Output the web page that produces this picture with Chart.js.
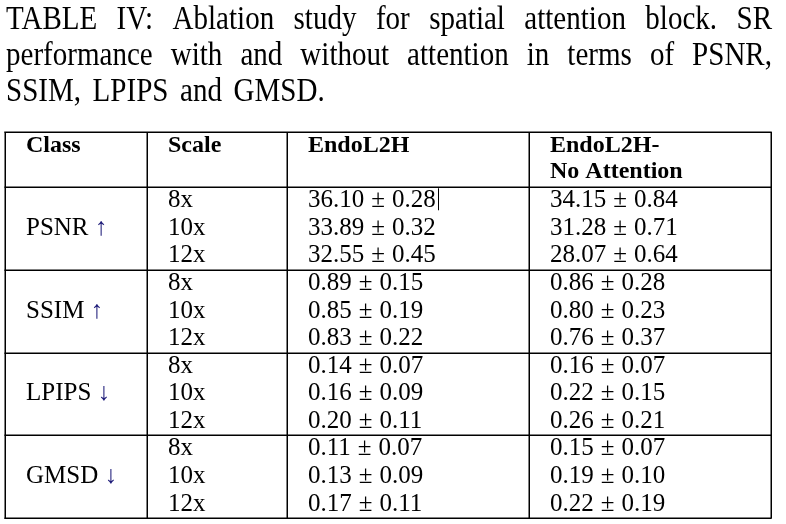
<!DOCTYPE html>
<html lang="en">

<head>
    <meta charset="UTF-8">
    <title>TABLE IV: Ablation study for spatial attention block</title>
    <script src="https://cdn.jsdelivr.net/npm/chart.js"></script>
    <style>
        body {
            margin: 0;
            background: #fff;
        }

        canvas {
            display: block;
        }
    </style>
</head>

<body>
    <canvas id="tableChart" width="786" height="524"></canvas>

    <script>
        // table data
        const captionLines = [
            'TABLE IV: Ablation study for spatial attention block. SR',
            'performance with and without attention in terms of PSNR,',
            'SSIM, LPIPS and GMSD.'
        ];
        const headers = [['Class'], ['Scale'], ['EndoL2H'], ['EndoL2H-', 'No Attention']];
        const classes = ['PSNR', 'SSIM', 'LPIPS', 'GMSD'];
        const arrows = ['↑', '↑', '↓', '↓'];
        const scaleLabels = ['8x', '10x', '12x'];
        const endoMean = [36.10, 33.89, 32.55, 0.89, 0.85, 0.83, 0.14, 0.16, 0.20, 0.11, 0.13, 0.17];
        const endoStd = [0.28, 0.32, 0.45, 0.15, 0.19, 0.22, 0.07, 0.09, 0.11, 0.07, 0.09, 0.11];
        const noAttMean = [34.15, 31.28, 28.07, 0.86, 0.80, 0.76, 0.16, 0.22, 0.26, 0.15, 0.19, 0.22];
        const noAttStd = [0.84, 0.71, 0.64, 0.28, 0.23, 0.37, 0.07, 0.15, 0.21, 0.07, 0.10, 0.19];

        // layout (x in px units, y in row units; header takes 2 rows)
        const colEdges = [5, 147, 287, 529, 771];
        const inset = 21;
        const headRows = 2;
        const baseOff = 0.73;
        const serif = '"Liberation Serif", "Times New Roman", serif';

        const rows = endoMean.length;
        const colX = i => colEdges[i] + inset;
        const rowY = i => headRows + i + baseOff;

        function cellSet(col, texts, yOf) {
            return {
                data: texts.map((t, i) => ({ x: colX(col), y: yOf(i) })),
                texts: texts,
                col: col,
                pointRadius: 0,
                showLine: false
            };
        }

        const fmt = (m, s) => [m.toFixed(2), s.toFixed(2)];
        const datasets = [
            cellSet(0, classes.map((c, g) => [c, arrows[g]]), g => headRows + g * 3 + 1 + baseOff),
            cellSet(1, endoMean.map((_, i) => scaleLabels[i % 3]), rowY),
            cellSet(2, endoMean.map((m, i) => fmt(m, endoStd[i])), rowY),
            cellSet(3, noAttMean.map((m, i) => fmt(m, noAttStd[i])), rowY)
        ];

        const tablePlugin = {
            id: 'tablePlugin',
            beforeDraw(chart) {
                const ctx = chart.ctx;
                ctx.save();
                ctx.fillStyle = '#fff';
                ctx.fillRect(0, 0, chart.width, chart.height);
                // caption, justified like the paper, slightly condensed
                ctx.fillStyle = '#000';
                ctx.font = '33px ' + serif;
                ctx.textBaseline = 'alphabetic';
                const sx = 0.88;
                const left = colEdges[0] + 1, right = colEdges[colEdges.length - 1] + 1;
                const baselines = [29, 65, 101];
                captionLines.forEach((line, li) => {
                    const words = line.split(' ');
                    const ws = words.map(w => ctx.measureText(w).width * sx);
                    const total = ws.reduce((a, b) => a + b, 0);
                    const last = li === captionLines.length - 1;
                    const gap = last ? ctx.measureText(' ').width * 1.4 : (right - left - total) / (words.length - 1);
                    let x = left;
                    words.forEach((w, i) => {
                        ctx.save();
                        ctx.translate(x, baselines[li]);
                        ctx.scale(sx, 1);
                        ctx.fillText(w, 0, 0);
                        ctx.restore();
                        x += ws[i] + gap;
                    });
                });
                ctx.restore();
            },
            afterDatasetsDraw(chart) {
                const ctx = chart.ctx;
                const xs = chart.scales.x, ys = chart.scales.y;
                ctx.save();
                ctx.strokeStyle = '#000';
                ctx.lineWidth = 1.5;
                // table rules
                const top = ys.getPixelForValue(0), bottom = ys.getPixelForValue(headRows + rows);
                const hLines = [0, headRows];
                for (let g = 1; g <= rows / 3; g++) hLines.push(headRows + g * 3);
                ctx.beginPath();
                hLines.forEach(v => {
                    const y = Math.round(ys.getPixelForValue(v)) + 0.25;
                    ctx.moveTo(xs.getPixelForValue(colEdges[0]) - 0.75, y);
                    ctx.lineTo(xs.getPixelForValue(colEdges[4]) + 0.75, y);
                });
                colEdges.forEach(e => {
                    const x = Math.round(xs.getPixelForValue(e)) + 0.25;
                    ctx.moveTo(x, top);
                    ctx.lineTo(x, bottom);
                });
                ctx.stroke();

                // header
                ctx.fillStyle = '#000';
                ctx.font = 'bold 24px ' + serif;
                ctx.textBaseline = 'alphabetic';
                headers.forEach((h, c) => {
                    h.forEach((t, k) => {
                        ctx.fillText(t, xs.getPixelForValue(colX(c)), ys.getPixelForValue(0.72 + k * 0.95));
                    });
                });

                // body cells
                ctx.font = '25px ' + serif;
                chart.data.datasets.forEach((ds, di) => {
                    const meta = chart.getDatasetMeta(di);
                    meta.data.forEach((pt, i) => {
                        const t = ds.texts[i];
                        if (ds.col === 0) {
                            ctx.fillStyle = '#000';
                            ctx.fillText(t[0], pt.x, pt.y);
                            ctx.fillStyle = '#1c1a78';
                            ctx.fillText(t[1], pt.x + ctx.measureText(t[0] + ' ').width, pt.y);
                        } else if (Array.isArray(t)) {
                            ctx.fillStyle = '#000';
                            const gap = 7;
                            let x = pt.x;
                            ctx.fillText(t[0], x, pt.y);
                            x += ctx.measureText(t[0]).width + gap;
                            ctx.fillText('±', x, pt.y);
                            x += ctx.measureText('±').width + gap;
                            ctx.fillText(t[1], x, pt.y);
                            x += ctx.measureText(t[1]).width;
                            if (di === 2 && i === 0) {
                                // stray cursor mark in the source image
                                ctx.lineWidth = 1;
                                ctx.beginPath();
                                ctx.moveTo(Math.round(x) + 2.5, pt.y - 19);
                                ctx.lineTo(Math.round(x) + 2.5, pt.y + 3);
                                ctx.stroke();
                            }
                        } else {
                            ctx.fillStyle = '#000';
                            ctx.fillText(t, pt.x, pt.y);
                        }
                    });
                });
                ctx.restore();
            }
        };

        new Chart(document.getElementById('tableChart').getContext('2d'), {
            type: 'scatter',
            data: { datasets: datasets },
            options: {
                responsive: false,
                animation: false,
                devicePixelRatio: 1,
                events: [],
                layout: {
                    padding: { left: 0, right: 0, top: 132, bottom: 6 }
                },
                scales: {
                    x: { type: 'linear', min: 0, max: 786, display: false },
                    y: { type: 'linear', min: 0, max: headRows + rows, reverse: true, display: false }
                },
                plugins: {
                    legend: { display: false },
                    tooltip: { enabled: false }
                }
            },
            plugins: [tablePlugin]
        });
    </script>
</body>

</html>
